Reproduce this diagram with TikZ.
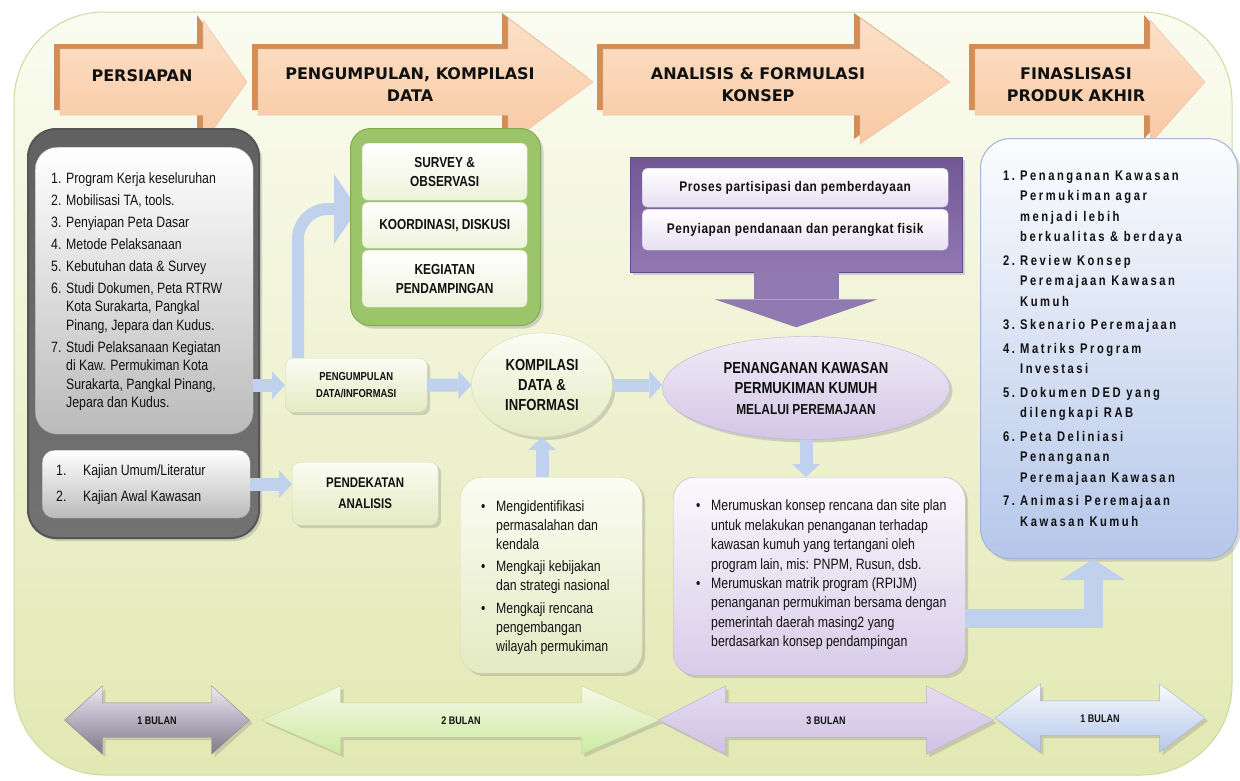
\documentclass[tikz,border=0pt]{standalone}
\usepackage{fontspec}
\setmainfont{Liberation Sans}
\newfontfamily\narrowfont[FakeStretch=0.82]{Liberation Sans}
\newfontfamily\widefont[FakeStretch=0.85,LetterSpace=4]{Liberation Sans}
\newfontfamily\spacedfont[FakeStretch=0.8,LetterSpace=18]{Liberation Sans}
\newfontfamily\headfont{DejaVu Sans}
\usepackage{xcolor}
\usepackage{tikz}
\usetikzlibrary{arrows.meta,shapes.geometric,shapes.arrows,shadows}
\pgfdeclarelayer{back}
\pgfsetlayers{back,main}
\definecolor{ink}{HTML}{111111}
\definecolor{bgtop}{HTML}{FBFCF1}
\definecolor{bgbot}{HTML}{E2E8B2}
\definecolor{bgline}{HTML}{C5DDA0}
\definecolor{peach}{HTML}{F8C9A2}
\definecolor{peachlt}{HTML}{FCE0C8}
\definecolor{peachdk}{HTML}{D38E58}
\definecolor{greyedge}{HTML}{555555}
\definecolor{greenbox}{HTML}{9CC46A}
\definecolor{greenline}{HTML}{7FAD4E}
\definecolor{creamtop}{HTML}{FBFCF3}
\definecolor{creambot}{HTML}{E4EAC2}
\definecolor{creamline}{HTML}{D3DBAE}
\definecolor{purplebox}{HTML}{7E61A4}
\definecolor{purpleline}{HTML}{65488A}
\definecolor{lilac}{HTML}{D3C6E6}
\definecolor{lilacline}{HTML}{BDAED5}
\definecolor{skyblue}{HTML}{C0D1EE}
\definecolor{paleblue}{HTML}{B5C7EA}
\definecolor{blueline}{HTML}{A3B5D8}
\tikzset{
  bgpanel/.style={draw=bgline, line width=1pt, top color=bgtop, bottom color=bgbot, rounded corners=90pt},
  hdr/.style={top color=peachlt, bottom color=peach, draw=peachdk!50, line width=0.5pt},
  hdrback/.style={fill=peachdk},
  hdrtext/.style={font=\headfont\bfseries\fontsize{16}{22}\selectfont, align=center, text=ink},
  shade/.style={drop shadow={shadow xshift=3pt, shadow yshift=-3pt, opacity=0.3}},
  greyout/.style={anchor=north west, inner sep=0pt, rounded corners=28pt, draw=greyedge, line width=2pt,
    top color=black!62, middle color=black!32, bottom color=black!55, shade},
  greyin/.style={anchor=north west, inner sep=0pt, rounded corners=22pt, draw=black!45,
    top color=white, bottom color=black!27},
  creambox/.style={anchor=north west, inner sep=0pt, rounded corners=8pt, draw=creamline,
    top color=creamtop, bottom color=creambot, align=center, text=ink, shade},
  greenpanel/.style={anchor=north west, inner sep=0pt, rounded corners=20pt, draw=greenline, line width=1pt,
    fill=greenbox, shade},
  fieldbox/.style={anchor=north west, inner sep=0pt, minimum width=165pt, rounded corners=6pt,
    top color=white, bottom color=creambot!60, draw=creamline, align=center, text=ink,
    font=\narrowfont\bfseries\fontsize{14.5}{19}\selectfont},
  greenoval/.style={ellipse, inner sep=0pt, draw=creamline, top color=creamtop, bottom color=creambot,
    align=center, text=ink, shade},
  purplepanel/.style={anchor=north west, inner sep=0pt, draw=purpleline, top color=purplebox!90!black,
    bottom color=purplebox!85, shade},
  lilacbox/.style={anchor=north west, inner sep=0pt, minimum width=306pt, rounded corners=5pt,
    top color=white, bottom color=lilac!55, draw=lilacline, text=ink,
    font=\widefont\bfseries\fontsize{14}{17}\selectfont},
  lilacoval/.style={ellipse, inner sep=0pt, draw=lilacline, top color=lilac!35, bottom color=lilac,
    align=center, text=ink, font=\narrowfont\bfseries\fontsize{16}{20.5}\selectfont, shade},
  lilacpanel/.style={anchor=north west, inner sep=0pt, rounded corners=22pt, draw=lilacline,
    top color=white!90!lilac, bottom color=lilac!90, shade},
  bluepanel/.style={anchor=north west, inner sep=0pt, rounded corners=30pt, draw=blueline, line width=1pt,
    top color=white!95!paleblue, bottom color=paleblue, shade},
  listtext/.style={align=left, inner sep=0pt, text=ink, font=\narrowfont\fontsize{15}{18.5}\selectfont},
  bluearrow/.style={draw=skyblue, line width=13pt, -{Triangle[length=13pt,width=28pt,line width=0pt]}},
  purplearrow/.style={draw=purplebox!85, line width=85pt, -{Triangle[length=28pt,width=163pt,line width=0pt]}},
  timearrow/.style={double arrow, minimum width=68pt, double arrow head extend=17pt, inner ysep=13pt,
    inner xsep=0pt, text height=8pt, text depth=0pt, text=ink,
    font=\narrowfont\bfseries\fontsize{11}{13}\selectfont, shade},
}
\begin{document}
\begin{tikzpicture}[x=1pt,y=-1pt]
  \useasboundingbox (0,0) rectangle (1240,780);

  \begin{pgfonlayer}{back}
  \draw[bgpanel] (14,12) rectangle (1232,775);

  % phase arrows, darker copy behind
  \fill[hdrback] (54,44) -- (197,44) -- (197,15) -- (241,77) -- (197,139) -- (197,110) -- (54,110) -- cycle;
  \draw[hdr] (60,49) -- (203,49) -- (203,20) -- (247,82) -- (203,144) -- (203,115) -- (60,115) -- cycle;
  \fill[hdrback] (252,44) -- (502,44) -- (502,13) -- (587,77) -- (502,139) -- (502,110) -- (252,110) -- cycle;
  \draw[hdr] (258,49) -- (508,49) -- (508,18) -- (593,82) -- (508,144) -- (508,115) -- (258,115) -- cycle;
  \fill[hdrback] (597,44) -- (854,44) -- (854,13) -- (944,77) -- (854,139) -- (854,110) -- (597,110) -- cycle;
  \draw[hdr] (603,49) -- (860,49) -- (860,18) -- (950,82) -- (860,144) -- (860,115) -- (603,115) -- cycle;
  \fill[hdrback] (969,44) -- (1144,44) -- (1144,15) -- (1199,77) -- (1144,139) -- (1144,110) -- (969,110) -- cycle;
  \draw[hdr] (975,49) -- (1150,49) -- (1150,20) -- (1205,82) -- (1150,144) -- (1150,115) -- (975,115) -- cycle;
  \end{pgfonlayer}

  \node[hdrtext] (phase1) at (142,76) {PERSIAPAN};
  \node[hdrtext] (phase2) at (410,85) {PENGUMPULAN, KOMPILASI\\DATA};
  \node[hdrtext] (phase3) at (758,85) {ANALISIS \& FORMULASI\\KONSEP};
  \node[hdrtext] (phase4) at (1076,85) {FINASLISASI\\PRODUK AKHIR};

  % persiapan
  \node[greyout, minimum width=231pt, minimum height=409pt] (prep) at (27,128) {};
  \node[greyin, minimum width=218pt, minimum height=287pt] (tasks) at (35,147) {};
  \node[listtext, anchor=west] (tasks-t) at (51,291.5) {%
    \makebox[15pt][l]{1.}Program Kerja keseluruhan\\[3.5pt]
    \makebox[15pt][l]{2.}Mobilisasi TA, tools.\\[3.5pt]
    \makebox[15pt][l]{3.}Penyiapan Peta Dasar\\[3.5pt]
    \makebox[15pt][l]{4.}Metode Pelaksanaan\\[3.5pt]
    \makebox[15pt][l]{5.}Kebutuhan data \& Survey\\[3.5pt]
    \makebox[15pt][l]{6.}Studi Dokumen, Peta RTRW\\
    \hspace*{15pt}Kota Surakarta, Pangkal\\
    \hspace*{15pt}Pinang, Jepara dan Kudus.\\[3.5pt]
    \makebox[15pt][l]{7.}Studi Pelaksanaan Kegiatan\\
    \hspace*{15pt}di Kaw. Permukiman Kota\\
    \hspace*{15pt}Surakarta, Pangkal Pinang,\\
    \hspace*{15pt}Jepara dan Kudus.};
  \node[greyin, rounded corners=12pt, minimum width=208pt, minimum height=68pt] (study) at (42,450) {};
  \node[listtext, anchor=west] (study-t) at (56,485) {%
    \makebox[27pt][l]{1.}Kajian Umum/Literatur\\[7.5pt]
    \makebox[27pt][l]{2.}Kajian Awal Kawasan};

  % pengumpulan data
  \node[creambox, minimum width=142pt, minimum height=54pt,
    font=\narrowfont\bfseries\fontsize{11.5}{17}\selectfont] (collect) at (285,358) {PENGUMPULAN\\DATA/INFORMASI};
  \node[creambox, minimum width=146pt, minimum height=63pt,
    font=\narrowfont\bfseries\fontsize{14}{21}\selectfont] (approach) at (292,462) {PENDEKATAN\\ANALISIS};
  \node[greenpanel, minimum width=190pt, minimum height=197pt] (field) at (350,128) {};
  \node[fieldbox, minimum height=57pt] (survey) at (362,143) {SURVEY \&\\OBSERVASI};
  \node[fieldbox, minimum height=46pt] (coord) at (362,202) {KOORDINASI, DISKUSI};
  \node[fieldbox, minimum height=57pt] (assist) at (362,250) {KEGIATAN\\PENDAMPINGAN};
  \node[greenoval, minimum width=141pt, minimum height=104pt,
    font=\narrowfont\bfseries\fontsize{16}{20}\selectfont] (compile) at (542,385) {KOMPILASI\\DATA \&\\INFORMASI};
  \node[creambox, rounded corners=22pt, minimum width=182pt, minimum height=196pt] (review) at (460,477) {};
  \node[listtext, anchor=west, font=\narrowfont\fontsize{15}{19}\selectfont] (review-t) at (481,577.5) {%
    \makebox[15pt][l]{\textbullet}Mengidentifikasi\\
    \hspace*{15pt}permasalahan dan\\
    \hspace*{15pt}kendala\\[3.5pt]
    \makebox[15pt][l]{\textbullet}Mengkaji kebijakan\\
    \hspace*{15pt}dan strategi nasional\\[3.5pt]
    \makebox[15pt][l]{\textbullet}Mengkaji rencana\\
    \hspace*{15pt}pengembangan\\
    \hspace*{15pt}wilayah permukiman};

  % analisis
  \node[purplepanel, minimum width=332pt, minimum height=115pt] (support) at (630,157) {};
  \node[lilacbox, minimum height=39pt] (partic) at (642,168) {Proses partisipasi dan pemberdayaan};
  \node[lilacbox, minimum height=41pt] (funding) at (642,209) {Penyiapan pendanaan dan perangkat fisik};
  \node[lilacoval, minimum width=287pt, minimum height=103pt] (target) at (806,388)
    {PENANGANAN KAWASAN\\PERMUKIMAN KUMUH\\\fontsize{14.5}{19}\selectfont MELALUI PEREMAJAAN};
  \node[lilacpanel, minimum width=292pt, minimum height=198pt] (concept) at (673,477) {};
  \node[listtext, anchor=west, font=\narrowfont\fontsize{15}{19.4}\selectfont] (concept-t) at (696,575) {%
    \makebox[15pt][l]{\textbullet}Merumuskan konsep rencana dan site plan\\
    \hspace*{15pt}untuk melakukan penanganan terhadap\\
    \hspace*{15pt}kawasan kumuh yang tertangani oleh\\
    \hspace*{15pt}program lain, mis: PNPM, Rusun, dsb.\\
    \makebox[15pt][l]{\textbullet}Merumuskan matrik program (RPIJM)\\
    \hspace*{15pt}penanganan permukiman bersama dengan\\
    \hspace*{15pt}pemerintah daerah masing2 yang\\
    \hspace*{15pt}berdasarkan konsep pendampingan};

  % produk akhir
  \node[bluepanel, minimum width=257pt, minimum height=420pt] (final) at (980,138) {};
  \node[listtext, anchor=west, font=\spacedfont\bfseries\fontsize{14}{20.5}\selectfont] (final-t) at (1003,348.5) {%
    \makebox[17pt][l]{1.}Penanganan Kawasan\\
    \hspace*{17pt}Permukiman agar\\
    \hspace*{17pt}menjadi lebih\\
    \hspace*{17pt}berkualitas \& berdaya\\[3pt]
    \makebox[17pt][l]{2.}Review Konsep\\
    \hspace*{17pt}Peremajaan Kawasan\\
    \hspace*{17pt}Kumuh\\[3pt]
    \makebox[17pt][l]{3.}Skenario Peremajaan\\[3pt]
    \makebox[17pt][l]{4.}Matriks Program\\
    \hspace*{17pt}Investasi\\[3pt]
    \makebox[17pt][l]{5.}Dokumen DED yang\\
    \hspace*{17pt}dilengkapi RAB\\[3pt]
    \makebox[17pt][l]{6.}Peta Deliniasi\\
    \hspace*{17pt}Penanganan\\
    \hspace*{17pt}Peremajaan Kawasan\\[3pt]
    \makebox[17pt][l]{7.}Animasi Peremajaan\\
    \hspace*{17pt}Kawasan Kumuh};

  % flow between blocks
  \begin{pgfonlayer}{back}
  \draw[bluearrow, line width=12pt, rounded corners=30pt, -{Triangle[length=24pt,width=70pt,line width=0pt]}]
    ([xshift=13pt]collect.north west) |- ([xshift=8pt,yshift=18pt]field.west);
  \end{pgfonlayer}
  \draw[bluearrow] (tasks.east |- collect.west) -- (collect.west);
  \draw[bluearrow] (study.east) -- (study.east -| approach.west);
  \draw[bluearrow] (collect.east) -- (compile.west);
  \draw[bluearrow] (compile.east) -- (compile.east -| target.west);
  \draw[bluearrow] (compile.south |- review.north) -- (compile.south);
  \draw[bluearrow] (target.south) -- (target.south |- concept.north);
  \draw[purplearrow] (support.south) -- ([yshift=9pt]support.south |- target.north);
  \draw[bluearrow, line width=19pt, -{Triangle[length=21pt,width=65pt,line width=0pt]}]
    ([yshift=-42pt]concept.east) -| ([xshift=-16pt]final.south);

  % durations
  \node[timearrow, minimum height=398pt, double arrow tip angle=47, draw=bgline,
    top color=white!70!bgbot, bottom color=bgbot!90!green] (month2) at (461,720) {2 BULAN};
  \node[timearrow, minimum height=185pt, double arrow tip angle=84, draw=black!45,
    top color=lilac!40, bottom color=black!40!lilac] (month1) at (157,720) {1 BULAN};
  \node[timearrow, minimum height=335pt, double arrow tip angle=54, draw=lilacline,
    top color=lilac!60, bottom color=lilac!95!purplebox] (month3) at (826,720) {3 BULAN};
  \node[timearrow, minimum height=210pt, double arrow tip angle=74, draw=blueline,
    top color=white!90!paleblue, bottom color=paleblue] (month4) at (1100,718) {1 BULAN};
\end{tikzpicture}
\end{document}
